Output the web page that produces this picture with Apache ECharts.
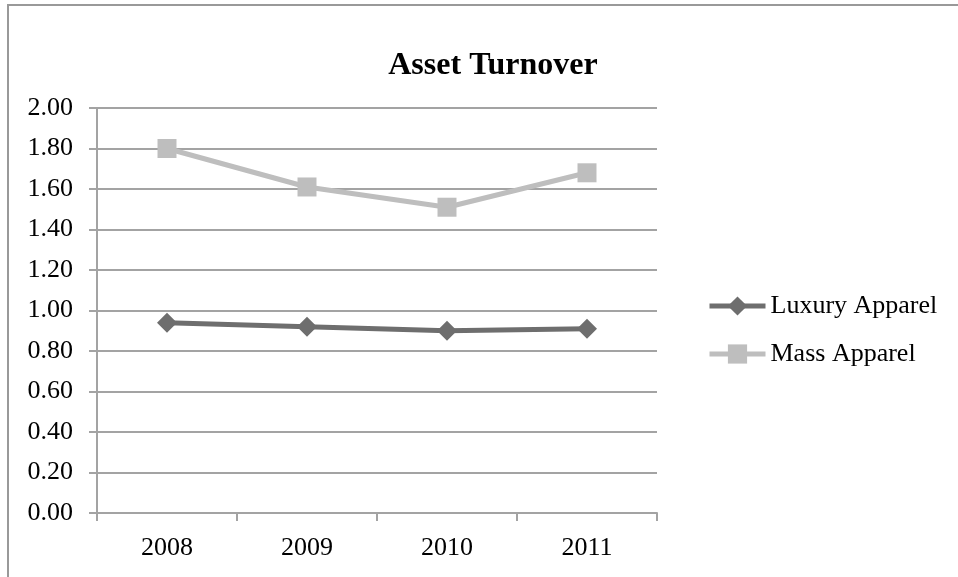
<!DOCTYPE html>
<html>
<head>
<meta charset="utf-8">
<script src="https://cdn.jsdelivr.net/npm/echarts@6/dist/echarts.min.js"></script>
<style>
  html, body { margin: 0; padding: 0; background: #fff; }
  #chart { width: 958px; height: 577px; }
</style>
</head>
<body>
<div id="chart"></div>
<script>
const years = ["2008", "2009", "2010", "2011"];
const luxuryApparel = [0.94, 0.92, 0.90, 0.91];
const massApparel = [1.80, 1.61, 1.51, 1.68];

const serif = "'Liberation Serif', 'Times New Roman', serif";
const gridGray = "#a3a3a3";

const chart = echarts.init(document.getElementById("chart"));

const option = {
  backgroundColor: "#fff",
  animation: false,
  textStyle: { fontFamily: serif, color: "#000" },
  title: {
    text: "Asset Turnover",
    left: 488,
    top: 45,
    textAlign: "center",
    textStyle: {
      fontFamily: serif,
      fontSize: 32,
      fontWeight: "bold",
      color: "#000",
    },
  },
  graphic: [
    {
      // chart frame, runs off the right and bottom edges
      type: "rect",
      shape: { x: 8, y: 5, width: 1000, height: 700 },
      style: { fill: "none", stroke: "#999", lineWidth: 2 },
      silent: true,
      z: -1,
    },
  ],
  legend: {
    orient: "vertical",
    left: 702,
    top: 288,
    itemWidth: 56,
    itemHeight: 24,
    itemGap: 22,
    lineStyle: { width: 5 },
    textStyle: { fontFamily: serif, fontSize: 26, color: "#000" },
    data: ["Luxury Apparel", "Mass Apparel"],
  },
  grid: {
    left: 97,
    right: 301,
    top: 108,
    bottom: 64,
    containLabel: false,
  },
  xAxis: {
    type: "category",
    data: years,
    boundaryGap: true,
    axisLine: { show: true, lineStyle: { color: gridGray, width: 2 } },
    axisTick: { show: true, length: 8, lineStyle: { color: gridGray, width: 2 } },
    axisLabel: { margin: 22, fontFamily: serif, fontSize: 26, color: "#000" },
    splitLine: { show: false },
  },
  yAxis: {
    type: "value",
    min: 0,
    max: 2,
    interval: 0.2,
    axisLine: { show: true, lineStyle: { color: gridGray, width: 2 } },
    axisTick: { show: true, length: 8, lineStyle: { color: gridGray, width: 2 } },
    axisLabel: {
      margin: 24,
      fontFamily: serif,
      fontSize: 26,
      color: "#000",
      formatter: (v) => v.toFixed(2),
    },
    splitLine: { show: true, lineStyle: { color: gridGray, width: 2 } },
  },
  series: [
    {
      name: "Luxury Apparel",
      type: "line",
      data: luxuryApparel,
      symbol: "diamond",
      symbolSize: 20,
      color: "#6e6e6e",
      lineStyle: { color: "#6e6e6e", width: 5 },
      itemStyle: { color: "#6e6e6e" },
    },
    {
      name: "Mass Apparel",
      type: "line",
      data: massApparel,
      symbol: "rect",
      symbolSize: 19,
      color: "#bebebe",
      lineStyle: { color: "#bebebe", width: 5 },
      itemStyle: { color: "#bebebe" },
    },
  ],
};

chart.setOption(option);
</script>
</body>
</html>
